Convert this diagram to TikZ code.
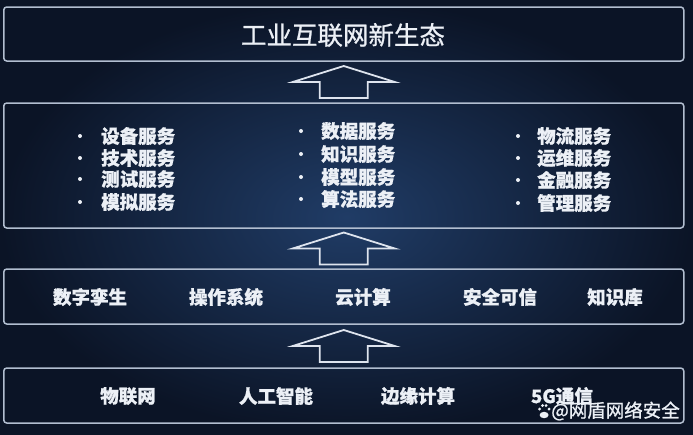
\documentclass[tikz,border=0pt]{standalone}
\usepackage{fontspec}
\setmainfont{Noto Sans CJK SC}[FakeBold=0.9]
\usetikzlibrary{calc}

\definecolor{bgin}{RGB}{32,60,102}
\definecolor{bgout}{RGB}{11,20,38}
\definecolor{boxline}{RGB}{178,190,208}
\definecolor{arrline}{RGB}{222,228,238}
\definecolor{txt}{RGB}{236,240,246}

\tikzset{
  layer/.style={draw=boxline, line width=1.5pt, rounded corners=3pt,
    minimum width=680pt, inner sep=0pt},
  item/.style={text=txt, font=\fontsize{18.5}{20}\selectfont\bfseries, inner sep=0pt},
  bigitem/.style={text=txt, font=\fontsize{25.5}{27}\selectfont, inner sep=0pt},
  hollow/.style={draw=arrline, line width=1.8pt, line join=miter},
  dot/.style={fill=txt, draw=none}
}

\begin{document}
\begin{tikzpicture}[x=1pt,y=-1pt]
\useasboundingbox (0,0) rectangle (693,434);
\shade[inner color=bgin, outer color=bgout] (0,0) rectangle (693,434);
%
% the four layers
\node[layer, minimum height=54pt]  (top)      at (343.75,34)    {};
\node[layer, minimum height=125pt] (service)  at (343.75,165.5) {};
\node[layer, minimum height=55pt]  (platform) at (343.75,296.5) {};
\node[layer, minimum height=55pt]  (base)     at (343.75,395.5) {};
%
\node[bigitem] (title) at (343,35) {工业互联网新生态};
%
% services, three columns
\foreach \t/\y [count=\i] in {设备服务/136, 技术服务/158, 测试服务/179, 模拟服务/202}{
  \node[item, anchor=west] (sa\i) at (101,\y) {\t};
  \fill[dot] ($(sa\i.west)+(-21,0)$) circle (2pt);
}
\foreach \t/\y [count=\i] in {数据服务/131, 知识服务/154, 模型服务/177, 算法服务/199}{
  \node[item, anchor=west] (sb\i) at (321,\y) {\t};
  \fill[dot] ($(sb\i.west)+(-20,0)$) circle (2pt);
}
\foreach \t/\y [count=\i] in {物流服务/136, 运维服务/158, 金融服务/180, 管理服务/203}{
  \node[item, anchor=west] (sc\i) at (537,\y) {\t};
  \fill[dot] ($(sc\i.west)+(-19,0)$) circle (2pt);
}
%
% platform layer
\foreach \t/\x [count=\i] in {数字孪生/90, 操作系统/226, 云计算/363, 安全可信/500, 知识库/615}
  \node[item] (p\i) at (\x,297) {\t};
%
% base layer
\foreach \t/\x [count=\i] in {物联网/128, 人工智能/276, 边缘计算/418, 5G通信/562}
  \node[item] (b\i) at (\x,396) {\t};
%
% hollow arrows between the layers
\foreach \lo/\hi in {base/platform, platform/service, service/top}{
  \coordinate (m) at ($(\lo.north)!0.5!(\hi.south)$);
  \draw[hollow] ($(m)+(-24,16)$) -- ($(m)+(-24,0)$) -- ($(m)+(-51,0)$)
    -- ($(m)+(0,-16)$) -- ($(m)+(51,0)$) -- ($(m)+(24,0)$)
    -- ($(m)+(24,16)$) -- cycle;
}
%
% watermark
\node[item, anchor=east, font=\fontsize{18.5}{20}\selectfont] (mark) at (680,411) {@网盾网络安全};
\fill[dot] ($(mark.west)+(-7,4)$) ellipse (4.5pt and 3.2pt);
\foreach \dx/\dy in {-11.5/-2, -8.5/-5.5, -5/-5.5, -2/-2}
  \fill[dot] ($(mark.west)+(\dx,\dy)$) circle (1.6pt);
\end{tikzpicture}
\end{document}
